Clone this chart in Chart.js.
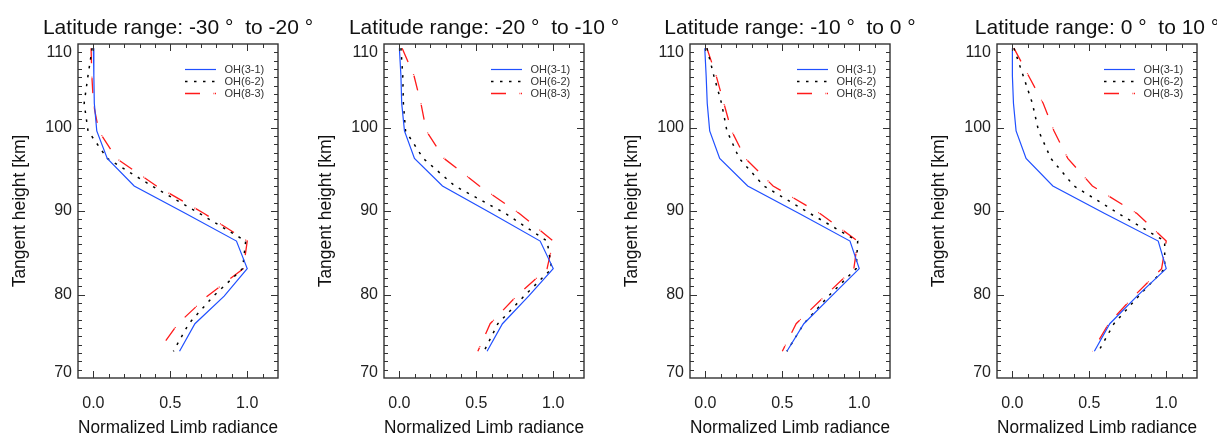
<!DOCTYPE html>
<html><head><meta charset="utf-8">
<script src="https://cdn.jsdelivr.net/npm/chart.js@4.4.1/dist/chart.umd.min.js"></script>
<style>
html,body{margin:0;padding:0;background:#fff;overflow:hidden;width:1217px;height:435px;position:relative;}
canvas{position:absolute;top:0;}
</style></head><body>
<canvas id="c0" width="356" height="439" style="left:0px"></canvas>
<canvas id="c1" width="356" height="439" style="left:306px"></canvas>
<canvas id="c2" width="356" height="439" style="left:612px"></canvas>
<canvas id="c3" width="356" height="439" style="left:919px"></canvas>
<script>
// ---- data (heights listed from top to bottom) ----
const heights = [109.5, 106.2, 102.9, 99.6, 96.3, 93.0, 89.7, 86.4, 83.1, 79.8, 76.5, 73.2];
const seriesNames = ['OH(3-1)', 'OH(6-2)', 'OH(8-3)'];
const panelTitles = [
  'Latitude range: -30 °  to -20 °',
  'Latitude range: -20 °  to -10 °',
  'Latitude range: -10 °  to 0 °',
  'Latitude range: 0 °  to 10 °'
];
const xTickValues = [0, 0.5, 1.0];
const yTickValues = [70, 80, 90, 100, 110];
const xAxisTitle = 'Normalized Limb radiance';
const yAxisTitle = 'Tangent height [km]';

// panel 1: -30 to -20
const oh31_p1 = [0.0, 0.003, 0.006, 0.022, 0.09, 0.265, 0.60, 0.93, 1.0, 0.85, 0.66, 0.56];
const oh62_p1 = [-0.008, -0.035, -0.06, -0.035, 0.09, 0.38, 0.69, 0.99, 0.97, 0.78, 0.62, 0.52];
const oh83_p1 = [-0.015, -0.01, 0.0, 0.035, 0.15, 0.41, 0.72, 1.0, 0.975, 0.74, 0.55, 0.42];
// panel 2: -20 to -10
const oh31_p2 = [0.0, 0.01, 0.015, 0.033, 0.098, 0.28, 0.60, 0.915, 1.0, 0.84, 0.67, 0.57];
const oh62_p2 = [0.01, 0.022, 0.026, 0.04, 0.155, 0.36, 0.69, 0.96, 0.99, 0.81, 0.64, 0.55];
const oh83_p2 = [0.018, 0.095, 0.14, 0.175, 0.29, 0.52, 0.78, 1.0, 0.96, 0.76, 0.59, 0.51];
// panel 3: -10 to 0
const oh31_p3 = [-0.004, 0.005, 0.012, 0.028, 0.093, 0.275, 0.61, 0.94, 1.0, 0.82, 0.64, 0.53];
const oh62_p3 = [0.01, 0.055, 0.105, 0.14, 0.22, 0.38, 0.68, 0.99, 0.98, 0.80, 0.64, 0.53];
const oh83_p3 = [0.01, 0.07, 0.12, 0.17, 0.26, 0.44, 0.745, 0.99, 0.965, 0.775, 0.59, 0.50];
// panel 4: 0 to 10
const oh31_p4 = [0.0, 0.0, 0.007, 0.024, 0.089, 0.263, 0.60, 0.948, 1.0, 0.81, 0.633, 0.533];
const oh62_p4 = [0.01, 0.07, 0.13, 0.17, 0.25, 0.40, 0.69, 0.99, 0.99, 0.82, 0.66, 0.56];
const oh83_p4 = [0.01, 0.105, 0.20, 0.27, 0.36, 0.52, 0.81, 1.0, 0.97, 0.79, 0.625, 0.52];

const panels = [
  [oh31_p1, oh62_p1, oh83_p1],
  [oh31_p2, oh62_p2, oh83_p2],
  [oh31_p3, oh62_p3, oh83_p3],
  [oh31_p4, oh62_p4, oh83_p4]
];

// ---- styles ----
const FONT = '"Liberation Sans", Arial, Helvetica, sans-serif';
const seriesStyles = [
  {color: '#2050ff', width: 1.2, dash: []},
  {color: '#000000', width: 1.5, dash: [2.5, 6.5]},
  {color: '#ff1a1a', width: 1.3, dash: [15, 13.5, 0.8, 0.7]}
];
const CANVAS_H = 439;
const PLOT_BOTTOM = 378;
const SIDE_W = 78;

const framePlugin = {
  id: 'idlFrame',
  afterDatasetsDraw(chart) {
    const ctx = chart.ctx;
    const a = chart.chartArea;
    const xs = chart.scales.x, ys = chart.scales.y;
    ctx.save();
    // frame
    ctx.strokeStyle = '#333';
    ctx.lineWidth = 1.4;
    ctx.setLineDash([]);
    ctx.strokeRect(a.left, a.top, a.right - a.left, a.bottom - a.top);
    // inward ticks on all four sides
    ctx.lineWidth = 1;
    ctx.beginPath();
    for (let i = -1; i <= 12; i++) {
      const v = i / 10;
      if (v <= xs.min + 1e-9 || v >= xs.max - 1e-9) continue;
      const px = Math.round(xs.getPixelForValue(v)) + 0.5;
      const len = (i % 5 === 0) ? 7 : 4;
      ctx.moveTo(px, a.bottom); ctx.lineTo(px, a.bottom - len);
      ctx.moveTo(px, a.top); ctx.lineTo(px, a.top + len);
    }
    for (let v = ys.min; v <= ys.max; v++) {
      if (v === ys.min || v === ys.max) continue;
      const py = Math.round(ys.getPixelForValue(v)) + 0.5;
      const len = (v % 10 === 0) ? 7 : 4;
      ctx.moveTo(a.left, py); ctx.lineTo(a.left + len, py);
      ctx.moveTo(a.right, py); ctx.lineTo(a.right - len, py);
    }
    ctx.stroke();
    // y tick labels (end labels kept inside the axis span, as in the original)
    ctx.fillStyle = '#222';
    ctx.font = '16px ' + FONT;
    ctx.textAlign = 'right';
    ctx.textBaseline = 'middle';
    ys.ticks.forEach(t => {
      let py = ys.getPixelForValue(t.value);
      if (py - a.top < 9) py = a.top + 8.5;
      if (a.bottom - py < 6) py = a.bottom - 5;
      ctx.fillText(String(t.value), a.left - 6, py);
    });
    // legend
    ctx.font = '11px ' + FONT;
    ctx.textAlign = 'left';
    chart.data.datasets.forEach((ds, i) => {
      const y = a.top + 25.5 + 12 * i;
      ctx.strokeStyle = ds.borderColor;
      ctx.lineWidth = ds.borderWidth;
      ctx.setLineDash(ds.borderDash || []);
      ctx.beginPath();
      ctx.moveTo(a.left + 107, y);
      ctx.lineTo(a.left + 138, y);
      ctx.stroke();
      ctx.setLineDash([]);
      ctx.fillStyle = '#333';
      ctx.fillText(ds.label, a.left + 146.5, y);
    });
    ctx.restore();
  }
};

panels.forEach((series, p) => {
  const datasets = series.map((vals, i) => ({
    label: seriesNames[i],
    data: heights.map((h, k) => ({x: vals[k], y: h})),
    borderColor: seriesStyles[i].color,
    borderWidth: seriesStyles[i].width,
    borderDash: seriesStyles[i].dash,
    showLine: true,
    pointRadius: 0,
    fill: false,
    tension: 0
  }));
  new Chart(document.getElementById('c' + p), {
    type: 'scatter',
    data: {datasets},
    plugins: [framePlugin],
    options: {
      responsive: false,
      animation: false,
      devicePixelRatio: 1,
      layout: {padding: 0},
      plugins: {
        legend: {display: false},
        tooltip: {enabled: false},
        title: {
          display: true, text: panelTitles[p], color: '#111',
          font: {family: FONT, size: 21, weight: 'normal'},
          padding: {top: 16, bottom: 2.8}
        }
      },
      scales: {
        x: {
          type: 'linear', position: 'bottom', min: -0.1, max: 1.2,
          grid: {display: false, drawTicks: false},
          border: {display: false},
          ticks: {color: '#222', font: {family: FONT, size: 16}, padding: 16,
                  maxRotation: 0, autoSkip: false,
                  callback: v => Number(v).toFixed(1)},
          afterBuildTicks: s => { s.ticks = xTickValues.map(v => ({value: v})); },
          afterFit: s => { s.height = CANVAS_H - PLOT_BOTTOM; },
          title: {display: true, text: xAxisTitle, color: '#111',
                  font: {family: FONT, size: 17.5}, padding: {top: 0, bottom: 0}}
        },
        y: {
          type: 'linear', position: 'left', min: 70, max: 110,
          grid: {display: false, drawTicks: false},
          border: {display: false},
          ticks: {display: false},
          afterBuildTicks: s => { s.ticks = yTickValues.map(v => ({value: v})); },
          afterFit: s => { s.width = SIDE_W; },
          title: {display: true, text: yAxisTitle, color: '#111',
                  font: {family: FONT, size: 17.5}, padding: {top: 9.5, bottom: 0}}
        },
        yRight: {
          type: 'linear', position: 'right', min: 70, max: 110, display: true,
          grid: {display: false, drawTicks: false},
          border: {display: false},
          ticks: {display: false},
          afterFit: s => { s.width = SIDE_W; }
        }
      }
    }
  });
});
</script>
</body></html>
